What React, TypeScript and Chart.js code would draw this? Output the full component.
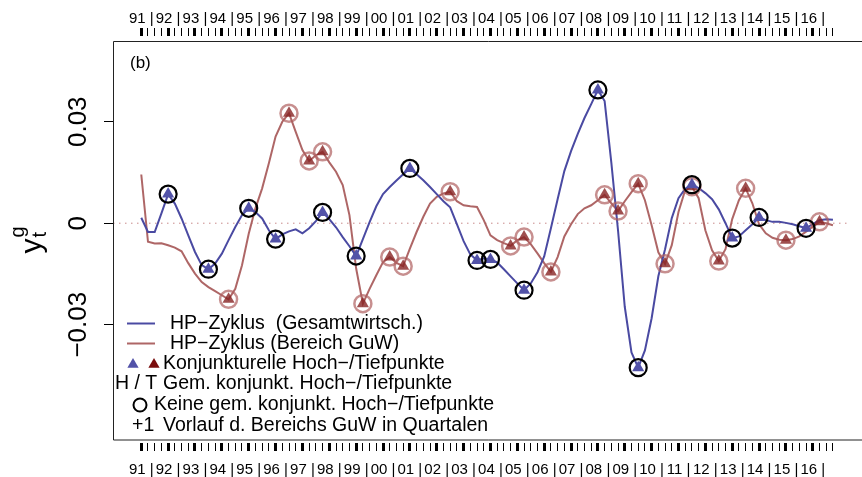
import React, { useEffect, useRef } from 'react';
import { Chart, registerables } from 'chart.js';

Chart.register(...registerables);

const FONT = '"Liberation Sans", Arial, Helvetica, sans-serif';

// ---- categories / tick labels ----
const years = ['91','92','93','94','95','96','97','98','99','00','01','02','03','04','05','06','07','08','09','10','11','12','13','14','15','16'];
const quarterLabels = years.flatMap((y) => ['Q1', 'Q2', 'Q3', 'Q4'].map((q) => `${y} ${q}`));
const yTickValues = [-0.03, 0, 0.03];
const yTickLabels = ['\u22120.03', '0', '0.03'];
const separatorLabel = '|';
const panelLabel = '(b)';

// ---- series (HP cycle, quarterly 1991Q1 .. 2016Q4) ----
const gesamt = [
  0.0016, -0.0026, -0.0026, 0.0029, 0.0086, 0.0058, 0.0014, -0.0036, -0.0085, -0.0124,
  -0.0136, -0.0119, -0.0090, -0.0050, -0.0011, 0.0024, 0.0044, 0.0033, 0.0014, -0.0021,
  -0.0047, -0.0033, -0.0024, -0.0018, -0.0030, -0.0015, 0.0006, 0.0032, 0.0012, -0.0012,
  -0.0041, -0.0068, -0.0097, -0.0047, 0.0003, 0.0050, 0.0086, 0.0107, 0.0126, 0.0145,
  0.0162, 0.0145, 0.0127, 0.0107, 0.0086, 0.0065, 0.0047, -0.0003, -0.0053, -0.0092,
  -0.0110, -0.0104, -0.0107, -0.0116, -0.0136, -0.0157, -0.0178, -0.0198, -0.0178, -0.0145,
  -0.0098, -0.0015, 0.0071, 0.0154, 0.0213, 0.0264, 0.0311, 0.0352, 0.0394, 0.0361,
  0.0179, -0.0022, -0.0247, -0.0382, -0.0427, -0.0376, -0.0281, -0.0157, -0.0077, 0.0015,
  0.0074, 0.0102, 0.0114, 0.0104, 0.0089, 0.0071, 0.0041, 0.0000, -0.0044, -0.0039,
  -0.0021, -0.0003, 0.0017, 0.0009, 0.0004, 0.0004, 0.0001, -0.0003, -0.0009, -0.0015,
  -0.0003, 0.0009, 0.0012, 0.0010,
];
const guw = [
  0.0144, -0.0055, -0.0060, -0.0059, -0.0065, -0.0072, -0.0083, -0.0118, -0.0149, -0.0174,
  -0.0189, -0.0201, -0.0213, -0.0225, -0.0194, -0.0124, -0.0031, 0.0044, 0.0103, 0.0177,
  0.0256, 0.0300, 0.0325, 0.0270, 0.0216, 0.0184, 0.0201, 0.0211, 0.0180, 0.0152,
  0.0113, 0.0024, -0.0134, -0.0238, -0.0194, -0.0154, -0.0115, -0.0100, -0.0117, -0.0127,
  -0.0075, -0.0026, 0.0019, 0.0058, 0.0078, 0.0088, 0.0093, 0.0065, 0.0053, 0.0050,
  0.0048, 0.0009, -0.0036, -0.0050, -0.0059, -0.0067, -0.0050, -0.0041, -0.0062, -0.0089,
  -0.0118, -0.0144, -0.0100, -0.0039, -0.0003, 0.0027, 0.0044, 0.0053, 0.0068, 0.0084,
  0.0059, 0.0036, 0.0065, 0.0092, 0.0117, 0.0068, -0.0006, -0.0086, -0.0120, -0.0065,
  0.0033, 0.0098, 0.0108, 0.0074, -0.0021, -0.0080, -0.0112, -0.0077, 0.0012, 0.0068,
  0.0103, 0.0059, -0.0003, -0.0030, -0.0043, -0.0049, -0.0050, -0.0047, -0.0039, -0.0025,
  -0.0010, 0.0004, 0.0000, -0.0006,
];
// turning points (quarter index)
const gesamtTurns = [4, 10, 16, 20, 27, 32, 40, 50, 52, 57, 68, 74, 82, 88, 92, 99];
const guwTurns = [13, 22, 25, 27, 33, 37, 39, 46, 55, 57, 61, 69, 71, 74, 78, 82, 86, 90, 96, 101];

// ---- legend texts ----
const legendTexts = [
  'HP\u2212Zyklus  (Gesamtwirtsch.)',
  'HP\u2212Zyklus (Bereich GuW)',
  'Konjunkturelle Hoch\u2212/Tiefpunkte',
  'Gem. konjunkt. Hoch\u2212/Tiefpunkte',
  'Keine gem. konjunkt. Hoch\u2212/Tiefpunkte',
  'Vorlauf d. Bereichs GuW in Quartalen',
];
const legendKeyHT = 'H / T';
const legendKeyLead = '+1';

// ---- styles ----
const BLUE_LINE = '#4a4aa2';
const BLUE_TRI = '#5252a8';
const RED_LINE = 'rgba(165, 85, 85, 0.9)';
const RED_TRI = 'rgba(135, 35, 35, 0.8)';
const RED_RING = 'rgba(175, 95, 95, 0.7)';
const DARK_RED = '#7a0c0c';

const X_MIN = -4.21;
const X_MAX = 105.69;
const Y_MIN = -0.06497;
const Y_MAX = 0.05534;

const toPts = (arr: number[]) => arr.map((v, i) => ({ x: i, y: v }));
const turnPts = (arr: number[], idx: number[]) => idx.map((i) => ({ x: i, y: arr[i] }));

const buildXTicks = () => quarterLabels.map((_, i) => ({ value: i }));
const xLabel = (v: number) => (v % 4 === 0 ? `${years[v / 4]} ${separatorLabel}` : '');

const xAxis = (position: 'top' | 'bottom', height: number, padding: number) => ({
  type: 'linear' as const,
  position,
  min: X_MIN,
  max: X_MAX,
  afterBuildTicks: (s: any) => {
    s.ticks = buildXTicks();
  },
  afterFit: (s: any) => {
    s.height = height;
  },
  border: { display: false },
  grid: {
    drawOnChartArea: false,
    tickLength: 8,
    tickColor: '#000',
    tickWidth: (c: any) => (c.tick && c.tick.value % 4 === 0 ? 3 : 1),
  },
  ticks: {
    autoSkip: false,
    maxRotation: 0,
    minRotation: 0,
    padding,
    color: '#000',
    font: { family: FONT, size: 15 },
    callback: (v: any) => xLabel(Number(v)),
  },
});

const decorPlugin = {
  id: 'decor',
  afterDraw(chart: any) {
    const { ctx, chartArea: a } = chart;
    const left = a.left;
    const top = a.top + 5.5;
    const bottom = a.bottom - 3;
    ctx.save();
    // frame
    ctx.strokeStyle = '#222';
    ctx.lineWidth = 1;
    ctx.beginPath();
    ctx.moveTo(chart.width + 2, top);
    ctx.lineTo(left + 0.5, top);
    ctx.lineTo(left + 0.5, bottom);
    ctx.lineTo(chart.width + 2, bottom);
    ctx.stroke();

    // panel label
    ctx.fillStyle = '#000';
    ctx.font = `17px ${FONT}`;
    ctx.textBaseline = 'middle';
    ctx.textAlign = 'left';
    ctx.fillText(panelLabel, left + 17, top + 22);

    // y axis title  y_t^g (rotated)
    ctx.save();
    ctx.translate(41, (a.top + a.bottom) / 2 + 14);
    ctx.rotate(-Math.PI / 2);
    ctx.textBaseline = 'alphabetic';
    ctx.font = `30px ${FONT}`;
    ctx.fillText('y', 0, 0);
    const yw = ctx.measureText('y').width;
    ctx.font = `20px ${FONT}`;
    ctx.fillText('t', yw + 1, 5);
    ctx.fillText('g', yw + 1, -17);
    ctx.restore();

    // legend
    const rows = [323.5, 343.5, 363.5, 384, 405, 425.5].map((r) => r - 443 + a.bottom);
    ctx.font = `19.5px ${FONT}`;
    ctx.textBaseline = 'middle';
    ctx.fillStyle = '#000';
    ctx.lineWidth = 2;
    ctx.strokeStyle = BLUE_LINE;
    ctx.beginPath();
    ctx.moveTo(left + 14, rows[0]);
    ctx.lineTo(left + 42, rows[0]);
    ctx.stroke();
    ctx.fillText(legendTexts[0], left + 57, rows[0]);
    ctx.strokeStyle = RED_LINE;
    ctx.beginPath();
    ctx.moveTo(left + 14, rows[1]);
    ctx.lineTo(left + 42, rows[1]);
    ctx.stroke();
    ctx.fillText(legendTexts[1], left + 57, rows[1]);
    const tri = (cx: number, cy: number, r: number, col: string) => {
      ctx.fillStyle = col;
      ctx.beginPath();
      ctx.moveTo(cx, cy - r);
      ctx.lineTo(cx + r * 0.866, cy + r * 0.5);
      ctx.lineTo(cx - r * 0.866, cy + r * 0.5);
      ctx.closePath();
      ctx.fill();
    };
    tri(left + 20, rows[2] + 1, 6.5, BLUE_TRI);
    tri(left + 41, rows[2] + 1, 6.5, DARK_RED);
    ctx.fillStyle = '#000';
    ctx.fillText(legendTexts[2], left + 50, rows[2]);
    ctx.fillText(legendKeyHT, left + 2, rows[3]);
    ctx.fillText(legendTexts[3], left + 50, rows[3]);
    ctx.strokeStyle = '#000';
    ctx.beginPath();
    ctx.arc(left + 27, rows[4], 6.5, 0, Math.PI * 2);
    ctx.stroke();
    ctx.fillText(legendTexts[4], left + 41, rows[4]);
    ctx.fillText(legendKeyLead, left + 19, rows[5]);
    ctx.fillText(legendTexts[5], left + 50, rows[5]);
    ctx.restore();
  },
};

export default function App() {
  const ref = useRef<HTMLCanvasElement | null>(null);
  useEffect(() => {
    if (!ref.current) return;
    const chart = new Chart(ref.current, {
      type: 'line',
      data: {
        datasets: [
          {
            label: 'Null',
            data: [{ x: X_MIN, y: 0 }, { x: X_MAX, y: 0 }],
            borderColor: '#c98a8a',
            borderWidth: 1,
            borderDash: [1.5, 4.5],
            pointRadius: 0,
            order: 10,
          },
          {
            label: legendTexts[1],
            data: toPts(guw),
            borderColor: RED_LINE,
            borderWidth: 2,
            pointRadius: 0,
            tension: 0,
            order: 9,
          },
          {
            label: legendTexts[0],
            data: toPts(gesamt),
            borderColor: BLUE_LINE,
            borderWidth: 2,
            pointRadius: 0,
            tension: 0,
            order: 8,
          },
          {
            label: 'GuW Wendepunkte',
            data: turnPts(guw, guwTurns),
            showLine: false,
            pointStyle: 'triangle',
            pointRadius: 7,
            pointBorderWidth: 0,
            pointBackgroundColor: RED_TRI,
            pointBorderColor: 'rgba(0,0,0,0)',
            order: 7,
          },
          {
            label: 'GuW Ringe',
            data: turnPts(guw, guwTurns),
            showLine: false,
            pointStyle: 'circle',
            pointRadius: 8.5,
            pointBorderWidth: 2.5,
            pointBackgroundColor: 'rgba(0,0,0,0)',
            pointBorderColor: RED_RING,
            order: 6,
          },
          {
            label: 'Gesamt Wendepunkte',
            data: turnPts(gesamt, gesamtTurns),
            showLine: false,
            pointStyle: 'triangle',
            pointRadius: 7,
            pointBorderWidth: 0,
            pointBackgroundColor: BLUE_TRI,
            pointBorderColor: 'rgba(0,0,0,0)',
            order: 5,
          },
          {
            label: 'Gesamt Ringe',
            data: turnPts(gesamt, gesamtTurns),
            showLine: false,
            pointStyle: 'circle',
            pointRadius: 8.5,
            pointBorderWidth: 2.2,
            pointBackgroundColor: 'rgba(0,0,0,0)',
            pointBorderColor: '#000',
            order: 4,
          },
        ],
      },
      options: {
        responsive: false,
        animation: false,
        events: [],
        layout: { padding: 0 },
        plugins: { legend: { display: false }, tooltip: { enabled: false } },
        scales: {
          x: xAxis('bottom', 34, 10),
          x2: xAxis('top', 36, 0),
          y: {
            type: 'linear',
            min: Y_MIN,
            max: Y_MAX,
            afterBuildTicks: (s: any) => {
              s.ticks = yTickValues.map((v) => ({ value: v }));
            },
            afterFit: (s: any) => {
              s.width = 113;
            },
            border: { display: false },
            grid: { drawOnChartArea: false, tickLength: 9, tickColor: '#000', tickWidth: 1 },
            ticks: {
              minRotation: 90,
              maxRotation: 90,
              crossAlign: 'center',
              padding: -8,
              color: '#000',
              font: { family: FONT, size: 26 },
              callback: (v: any) => yTickLabels[yTickValues.indexOf(Number(v))],
            },
          },
        },
      } as any,
      plugins: [decorPlugin],
    });
    return () => chart.destroy();
  }, []);
  return (
    <div style={{ position: 'absolute', left: 0, top: 0, width: 862, height: 477, background: '#fff' }}>
      <canvas ref={ref} width={862} height={477} style={{ display: 'block' }} />
    </div>
  );
}
